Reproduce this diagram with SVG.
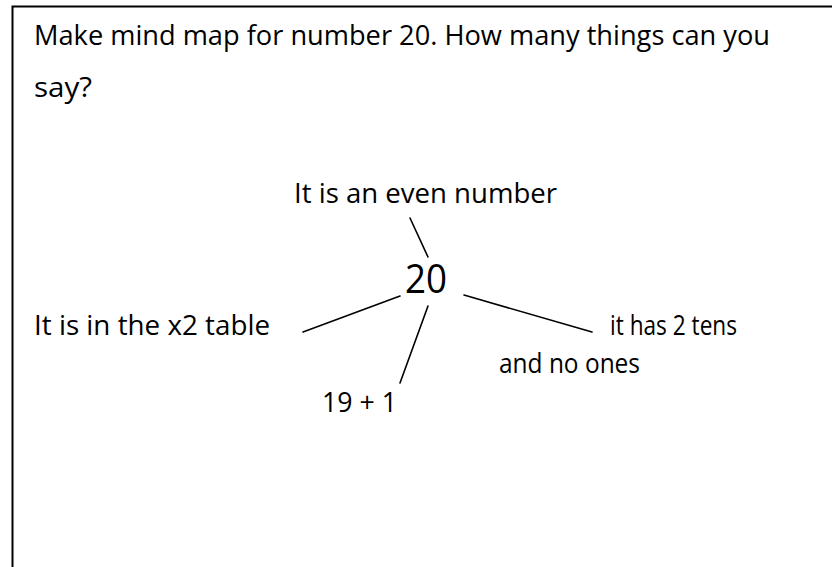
<svg xmlns="http://www.w3.org/2000/svg" width="832" height="567" viewBox="0 0 832 567">
<style>
  .t { font-family: "Open Sans", "Liberation Sans", sans-serif; font-size: 28px; fill: #000; }
  .big { font-size: 40px; }
  .c line { stroke: #000; stroke-width: 1.6; stroke-linecap: round; }
</style>
<rect width="832" height="567" fill="#fff"/>
<path d="M12.5,575 V6.5 H840" fill="none" stroke="#000" stroke-width="2"/>
<g id="title">
  <text class="t" x="34" y="45" textLength="736" lengthAdjust="spacingAndGlyphs">Make mind map for number 20. How many things can you</text>
  <text class="t" x="34" y="97" textLength="58" lengthAdjust="spacingAndGlyphs">say?</text>
</g>
<g class="c" id="connectors">
  <line x1="410" y1="218" x2="428" y2="257"/>
  <line x1="400" y1="296" x2="303" y2="332"/>
  <line x1="428" y1="306" x2="400" y2="383"/>
  <line x1="464" y1="295" x2="592" y2="332"/>
</g>
<g id="center"><text class="t big" x="405" y="293" textLength="42" lengthAdjust="spacingAndGlyphs">20</text></g>
<g id="even"><text class="t" x="294" y="203" textLength="263" lengthAdjust="spacingAndGlyphs">It is an even number</text></g>
<g id="table"><text class="t" x="34" y="335" textLength="236" lengthAdjust="spacingAndGlyphs">It is in the x2 table</text></g>
<g id="tens">
  <text class="t" x="610" y="335" textLength="127" lengthAdjust="spacingAndGlyphs">it has 2 tens</text>
  <text class="t" x="499" y="373" textLength="141" lengthAdjust="spacingAndGlyphs">and no ones</text>
</g>
<g id="sum"><text class="t" x="322" y="412" textLength="75" lengthAdjust="spacingAndGlyphs">19 + 1</text></g>
</svg>
